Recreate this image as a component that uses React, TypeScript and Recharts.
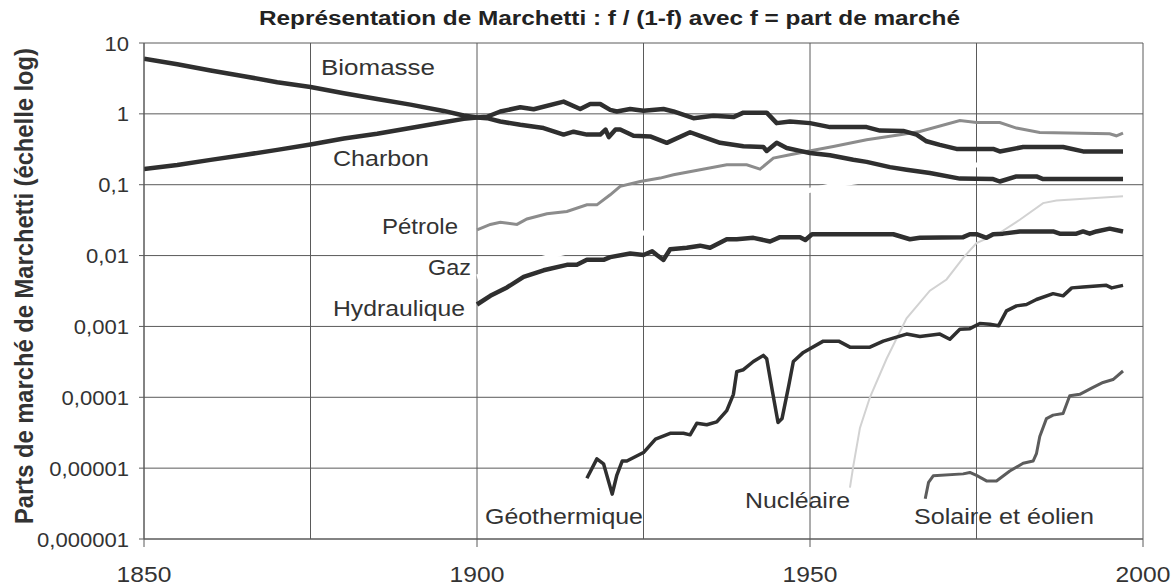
import React from "react";
import { LineChart, Line, XAxis, YAxis, CartesianGrid } from "recharts";

// ---------- axes ----------
const xTicks = [1850, 1900, 1950, 2000];
const gridYears = [1850, 1875, 1900, 1925, 1950, 1975, 2000];
const yTicks = [0.000001, 0.00001, 0.0001, 0.001, 0.01, 0.1, 1, 10];
const yTickLabels = ["0,000001", "0,00001", "0,0001", "0,001", "0,01", "0,1", "1", "10"];

// ---------- series ----------
const biomasseYears = [1850, 1855, 1860, 1865, 1870, 1875, 1880, 1885, 1890, 1895, 1898, 1900, 1901.5, 1903.5, 1906.5, 1910, 1913, 1914.5, 1916.5, 1918.5, 1919.3, 1919.8, 1920.8, 1921.5, 1923.5, 1926, 1928.5, 1932, 1933.5, 1936.5, 1940, 1943, 1943.5, 1945, 1946.5, 1948.5, 1950, 1953, 1956.5, 1958.5, 1962, 1964.5, 1968, 1972.5, 1977.5, 1978.5, 1981, 1984, 1985, 1997];
const biomasseValues = [6.0, 5.0, 4.1, 3.4, 2.8, 2.4, 1.95, 1.62, 1.35, 1.1, 0.95, 0.89, 0.87, 0.78, 0.7, 0.63, 0.51, 0.56, 0.51, 0.51, 0.6, 0.47, 0.6, 0.6, 0.49, 0.48, 0.39, 0.55, 0.49, 0.39, 0.35, 0.34, 0.3, 0.39, 0.33, 0.3, 0.28, 0.26, 0.225, 0.21, 0.177, 0.163, 0.146, 0.122, 0.12, 0.111, 0.131, 0.131, 0.12, 0.12];

const charbonYears = [1850, 1855, 1860, 1865, 1870, 1875, 1880, 1885, 1890, 1895, 1898, 1900, 1901.5, 1903.5, 1906.5, 1908.5, 1913, 1915.5, 1917, 1918.5, 1920, 1921, 1923, 1925, 1928, 1929.5, 1932.5, 1935.5, 1938.5, 1940, 1943.5, 1945, 1947, 1950, 1953, 1958.5, 1960.5, 1964, 1966, 1967.5, 1969.5, 1972, 1977.5, 1978.5, 1982, 1988, 1991, 1997];
const charbonValues = [0.166, 0.19, 0.224, 0.263, 0.31, 0.37, 0.45, 0.525, 0.63, 0.76, 0.85, 0.89, 0.91, 1.08, 1.24, 1.16, 1.49, 1.17, 1.38, 1.38, 1.14, 1.08, 1.17, 1.11, 1.17, 1.08, 0.87, 0.94, 0.9, 1.04, 1.04, 0.74, 0.78, 0.74, 0.65, 0.65, 0.58, 0.575, 0.51, 0.41, 0.365, 0.32, 0.32, 0.295, 0.34, 0.34, 0.295, 0.295];

const petroleYears = [1900, 1902, 1903.5, 1906, 1907.5, 1910.5, 1913.5, 1916.5, 1918, 1920, 1921.5, 1924.5, 1927.5, 1929.5, 1933.5, 1937.5, 1940.5, 1942.5, 1944.5, 1947, 1949.5, 1953.5, 1958.5, 1963.5, 1966.5, 1972.5, 1975, 1978.5, 1981, 1984.5, 1995, 1996, 1997];
const petroleValues = [0.023, 0.0275, 0.0295, 0.0275, 0.0328, 0.039, 0.042, 0.052, 0.052, 0.072, 0.095, 0.111, 0.124, 0.138, 0.163, 0.191, 0.191, 0.166, 0.238, 0.264, 0.294, 0.347, 0.43, 0.506, 0.564, 0.805, 0.755, 0.755, 0.63, 0.546, 0.522, 0.49, 0.535];

const gazYears = [1900, 1905, 1911, 1920, 1930, 1940, 1946, 1954, 1962, 1970, 1975, 1985, 1997];
const gazValues = [0.005, 0.0068, 0.0098, 0.016, 0.027, 0.046, 0.07, 0.1, 0.13, 0.17, 0.19, 0.23, 0.26];

const hydrauliqueYears = [1900, 1902, 1904.5, 1907, 1910, 1913.5, 1915, 1916.5, 1919, 1920, 1923, 1925, 1926.3, 1927, 1928, 1929, 1931.5, 1933.5, 1935, 1937.5, 1939, 1941.5, 1944, 1945.5, 1948.5, 1949.3, 1950.3, 1962.5, 1965, 1966.5, 1973, 1974, 1975, 1976.5, 1977.5, 1979, 1981.5, 1986.5, 1987.5, 1990, 1991, 1992, 1993, 1995, 1997];
const hydrauliqueValues = [0.00204, 0.0027, 0.00355, 0.005, 0.0062, 0.0074, 0.0074, 0.0087, 0.0087, 0.0095, 0.0107, 0.0102, 0.0115, 0.0102, 0.0087, 0.0123, 0.0129, 0.0138, 0.0129, 0.017, 0.017, 0.0178, 0.0158, 0.0182, 0.0182, 0.0166, 0.02, 0.02, 0.017, 0.0178, 0.0182, 0.02, 0.02, 0.0178, 0.02, 0.0204, 0.0219, 0.0219, 0.0204, 0.0204, 0.0219, 0.0204, 0.0219, 0.024, 0.0219];

const geothermiqueYears = [1916.5, 1918, 1919, 1920.3, 1921, 1921.8, 1922.5, 1925, 1926.8, 1929, 1931, 1932, 1933, 1934.5, 1936, 1937.5, 1938.5, 1939, 1940, 1941.5, 1943, 1943.5, 1944.3, 1945.2, 1945.8, 1946.8, 1947.5, 1949, 1952, 1954.3, 1956, 1959, 1961, 1964.5, 1966.5, 1969.5, 1971, 1972.5, 1974, 1975.5, 1977, 1978.3, 1979.5, 1981, 1982.5, 1984, 1986.5, 1988, 1989.3, 1991, 1994.5, 1995.3, 1997];
const geothermiqueValues = [0.0000072, 0.0000135, 0.0000115, 0.0000043, 0.000008, 0.0000126, 0.0000126, 0.0000166, 0.0000257, 0.000031, 0.000031, 0.0000295, 0.000043, 0.000041, 0.000045, 0.000065, 0.00011, 0.00023, 0.000245, 0.00032, 0.00039, 0.00035, 0.00013, 0.000044, 0.00005, 0.000145, 0.00032, 0.00043, 0.00062, 0.00062, 0.00051, 0.00051, 0.00062, 0.00078, 0.00072, 0.00078, 0.00066, 0.00091, 0.00093, 0.0011, 0.00107, 0.00102, 0.00166, 0.00195, 0.00204, 0.0024, 0.0029, 0.0027, 0.0035, 0.0036, 0.0038, 0.0035, 0.0038];

const nucleaireYears = [1956, 1956.5, 1957.5, 1959, 1961.5, 1964.5, 1968, 1970.5, 1973, 1975, 1978.5, 1981.5, 1985, 1987, 1997];
const nucleaireValues = [0.0000053, 0.0000107, 0.000037, 0.0001, 0.00035, 0.0013, 0.0032, 0.0046, 0.0093, 0.015, 0.021, 0.032, 0.055, 0.06, 0.069];

const solaireYears = [1967.3, 1967.8, 1968.5, 1973, 1974, 1975, 1976.5, 1978, 1980, 1982, 1983.5, 1984, 1984.5, 1985.5, 1986.5, 1988, 1989, 1990.5, 1992.5, 1994, 1995.5, 1997];
const solaireValues = [0.0000037, 0.0000063, 0.0000078, 0.0000083, 0.0000087, 0.0000079, 0.0000066, 0.0000066, 0.0000091, 0.0000117, 0.0000126, 0.000016, 0.000028, 0.00005, 0.000056, 0.000059, 0.000105, 0.00011, 0.000138, 0.000162, 0.000178, 0.000235];

const toPoints = (xs: number[], ys: number[]) => xs.map((x, i) => ({ year: x, value: ys[i] }));

const FONT = "'Liberation Sans', Arial, Helvetica, sans-serif";
const GRID = "#5a5a5a";
const DARK = "#2f2f2f";

const YTick = (props: any) => {
  const { x, y, payload } = props;
  const i = yTicks.findIndex((t) => Math.abs(Math.log10(t) - Math.log10(payload.value)) < 1e-6);
  return (
    <g transform={`translate(${x - 8},${y})`}>
      <text transform="scale(1.05,1)" textAnchor="end" dy={7.5} fontSize={21} fontFamily={FONT} fill="#333">
        {i >= 0 ? yTickLabels[i] : ""}
      </text>
    </g>
  );
};

const XTick = (props: any) => {
  const { x, y, payload } = props;
  return (
    <g transform={`translate(${x},${y + 33})`}>
      <text transform="scale(1.12,1)" textAnchor="middle" fontSize={22} fontFamily={FONT} fill="#333">
        {payload.value}
      </text>
    </g>
  );
};

const seriesLabels = [
  { text: "Biomasse", x: 321, y: 75, w: 114 },
  { text: "Charbon", x: 333, y: 166, w: 96 },
  { text: "Pétrole", x: 382, y: 234, w: 76 },
  { text: "Gaz", x: 428, y: 275, w: 43 },
  { text: "Hydraulique", x: 333, y: 316, w: 132 },
  { text: "Géothermique", x: 485, y: 524, w: 158 },
  { text: "Nucléaire", x: 745, y: 508, w: 105 },
  { text: "Solaire et éolien", x: 914, y: 524, w: 180 },
];

export default function App() {
  return (
    <div style={{ position: "absolute", left: 0, top: 0, width: 1176, height: 587, background: "#fff" }}>
      <LineChart width={1176} height={587} margin={{ top: 43, right: 33, bottom: 0, left: 0 }}>
        <CartesianGrid
          stroke={GRID}
          strokeWidth={1}
          verticalCoordinatesGenerator={(p: any) => {
            const sc = p?.xAxis?.scale;
            if (typeof sc === "function") return gridYears.map((g) => sc(g));
            return gridYears.map((g) => p.offset.left + ((g - 1850) / 150) * p.offset.width);
          }}
        />
        <XAxis
          type="number"
          dataKey="year"
          domain={[1850, 2000]}
          ticks={xTicks}
          allowDataOverflow
          height={48}
          tickSize={8}
          stroke={GRID}
          tick={(p: any) => <XTick {...p} />}
        />
        <YAxis
          type="number"
          scale="log"
          domain={[0.000001, 10]}
          ticks={yTicks}
          allowDataOverflow
          width={144}
          tickSize={5}
          stroke={GRID}
          tick={(p: any) => <YTick {...p} />}
        />
        <Line data={toPoints(gazYears, gazValues)} dataKey="value" stroke="#ffffff" strokeWidth={5} dot={false} isAnimationActive={false} />
        <Line data={toPoints(nucleaireYears, nucleaireValues)} dataKey="value" stroke="#d2d2d2" strokeWidth={2} dot={false} isAnimationActive={false} />
        <Line data={toPoints(petroleYears, petroleValues)} dataKey="value" stroke="#8c8c8c" strokeWidth={3} dot={false} isAnimationActive={false} />
        <Line data={toPoints(biomasseYears, biomasseValues)} dataKey="value" stroke={DARK} strokeWidth={4.5} dot={false} isAnimationActive={false} strokeLinejoin="round" />
        <Line data={toPoints(charbonYears, charbonValues)} dataKey="value" stroke={DARK} strokeWidth={4.5} dot={false} isAnimationActive={false} strokeLinejoin="round" />
        <Line data={toPoints(hydrauliqueYears, hydrauliqueValues)} dataKey="value" stroke={DARK} strokeWidth={4.5} dot={false} isAnimationActive={false} strokeLinejoin="round" />
        <Line data={toPoints(geothermiqueYears, geothermiqueValues)} dataKey="value" stroke={DARK} strokeWidth={3.5} dot={false} isAnimationActive={false} strokeLinejoin="round" />
        <Line data={toPoints(solaireYears, solaireValues)} dataKey="value" stroke="#5c5c5c" strokeWidth={3} dot={false} isAnimationActive={false} strokeLinejoin="round" />
      </LineChart>
      <svg width={1176} height={587} style={{ position: "absolute", left: 0, top: 0, pointerEvents: "none" }}>
        <text x={259} y={25} textLength={701} lengthAdjust="spacingAndGlyphs" fontSize={20} fontWeight="bold" fontFamily={FONT} fill="#222">
          Représentation de Marchetti : f / (1-f) avec f = part de marché
        </text>
        <g transform="translate(33,286) scale(1.2,1) rotate(-90)">
          <text x={-238} y={0} textLength={476} lengthAdjust="spacingAndGlyphs" fontSize={21} fontWeight="bold" fontFamily={FONT} fill="#333">
            Parts de marché de Marchetti (échelle log)
          </text>
        </g>
        {seriesLabels.map((l) => (
          <text key={l.text} x={l.x} y={l.y} textLength={l.w} lengthAdjust="spacingAndGlyphs" fontSize={22} fontFamily={FONT} fill="#333">
            {l.text}
          </text>
        ))}
      </svg>
    </div>
  );
}
